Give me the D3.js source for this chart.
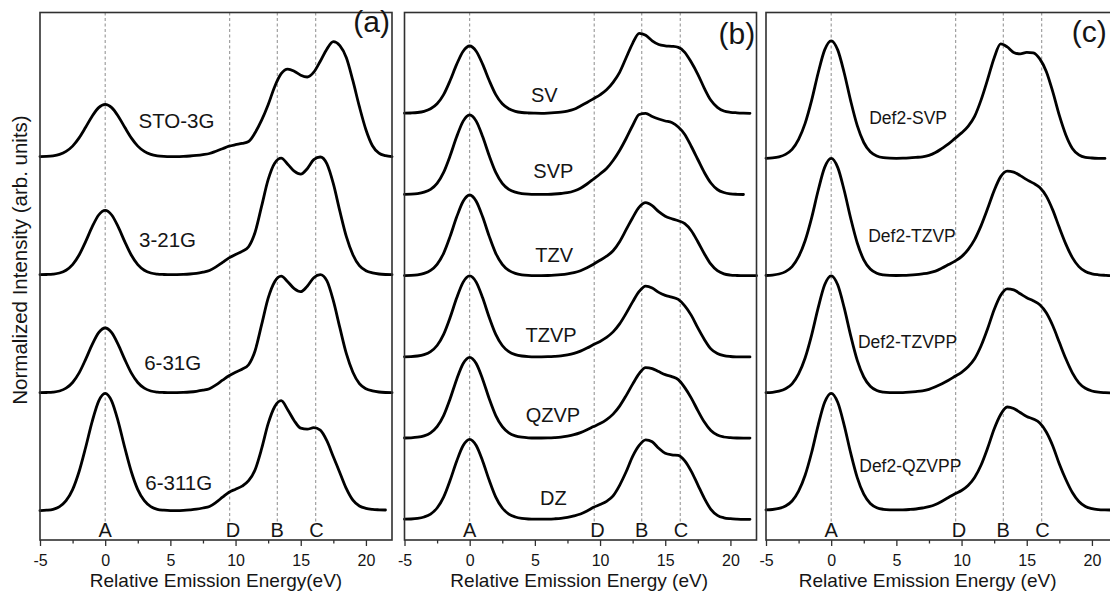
<!DOCTYPE html>
<html>
<head>
<meta charset="utf-8">
<script src="https://cdn.jsdelivr.net/npm/d3@7"></script>
<style>
  body { margin: 0; background: #fff; }
  svg { display: block; }
  text { font-family: "Liberation Sans", Arial, Helvetica, sans-serif; fill: #151515; }
</style>
</head>
<body>
<svg id="chart" width="1110" height="591"></svg>
<script>
// Sample energies (eV) shared by every spectrum
const energies = [
  -5, -4.5, -4, -3.5, -3, -2.5, -2, -1.5, -1, -0.5,
  0, 0.5, 1, 1.5, 2, 2.5, 3, 3.5, 4, 4.5,
  5, 5.5, 6, 6.5, 7, 7.5, 8, 8.5, 9, 9.5,
  10, 10.5, 11, 11.5, 12, 12.5, 13, 13.5, 14, 14.5,
  15, 15.5, 16, 16.5, 17, 17.5, 18, 18.5, 19, 19.5,
  20, 20.5, 21, 21.5, 22
];

// Panel (a): Pople basis sets
const namesA = ["STO-3G", "3-21G", "6-31G", "6-311G"];
const offsetsA = [354, 236, 118, 0];
const sto3g = [
  0.1, 0.3, 0.9, 2.3, 5.3, 10.6, 18.8, 29.4, 40.5, 49.1,
  52.3, 49.1, 40.5, 29.4, 18.8, 10.6, 5.3, 2.3, 0.9, 0.3,
  0.1, 0.1, 0.3, 0.7, 1.3, 2.1, 3.2, 5.5, 8, 10.5,
  12, 13.3, 15.2, 24, 36.5, 52, 70, 83, 87.6, 85.5,
  81.5, 79.7, 84.5, 95.5, 107.5, 115, 111, 99, 76, 50,
  27, 11, 3.5, 1, 0
];
const b321g = [
  0, 0.2, 0.6, 1.7, 4.5, 10.1, 19.7, 33.1, 47.8, 59.7,
  64.3, 59.7, 47.8, 33.1, 19.7, 10.1, 4.5, 1.7, 0.6, 0.2,
  0, 0.1, 0.3, 0.7, 1.4, 2.6, 4.2, 7.8, 12.3, 16.8,
  20.3, 23.3, 28, 42.5, 68.5, 95, 111.5, 116.5, 110.5, 103.5,
  100.5, 106, 115, 117.7, 111, 91, 63.5, 38, 20, 9,
  4, 1.8, 0.7, 0.2, 0
];
const b631g = [
  0, 0.2, 0.6, 1.7, 4.5, 10.2, 19.8, 33.3, 48.1, 60.1,
  64.7, 60.1, 48.1, 33.3, 19.8, 10.2, 4.5, 1.7, 0.6, 0.2,
  0, 0.1, 0.3, 0.7, 1.4, 2.5, 4, 7.8, 12.5, 17,
  20.5, 23.5, 28, 42, 68, 94.5, 111, 116.5, 111, 104,
  101, 106.5, 115, 118, 112, 92, 65, 39, 20.5, 9,
  4, 1.8, 0.7, 0.2, 0
];
const b6311g = [
  0.1, 0.5, 1.4, 4.1, 10, 21.1, 39.2, 63.2, 89.1, 109.6,
  117.3, 109.6, 89.1, 63.2, 39.2, 21.1, 10, 4.1, 1.4, 0.5,
  0.1, 0.1, 0.3, 0.8, 1.5, 2.7, 4.2, 8.3, 13.5, 18.5,
  21.5, 24.5, 30, 41, 62, 87, 104, 110, 101, 90,
  82.5, 81.5, 83, 80.5, 70, 54, 38, 22, 10.5, 4.7,
  2.3, 1.3, 0.9, 0.7
];
const labelEA = [5.47, 4.78, 5.18, 5.64];
const labelHA = [28.7, 27.7, 23, 20.7];

// Panel (b): Ahlrichs basis sets
const namesB = ["SV", "SVP", "TZV", "TZVP", "QZVP", "DZ"];
const offsetsB = [406, 324.8, 243.6, 162.4, 81.2, 0];
const sv = [
  0.1, 0.3, 0.8, 2, 4.5, 9.5, 18.7, 32.8, 48.9, 62.1,
  67.3, 62.1, 48.9, 32.8, 18.7, 9.5, 4.5, 2, 0.8, 0.3,
  0.1, 0, 0.2, 0.6, 1.2, 2.2, 4, 7.3, 10.8, 14.6,
  18.5, 23.5, 31, 41, 55.5, 70, 80, 78, 72.5, 68.8,
  67.5, 67, 66, 61, 51, 39, 25, 13, 6, 2.3,
  1, 0.5, 0.2, 0
];
const svp = [
  0.1, 0.3, 0.9, 2.3, 5.2, 11.2, 22.1, 38.7, 57.7, 73.4,
  79.5, 73.4, 57.7, 38.7, 22.1, 11.2, 5.2, 2.3, 0.9, 0.3,
  0.1, 0.1, 0.2, 0.5, 1, 1.8, 3.5, 6.3, 10.5, 15.5,
  20.5, 26, 34, 44, 56, 69, 80, 81.2, 78, 75.5,
  73.5, 72, 67.5, 60, 48, 35, 22, 11.5, 5, 2,
  0.7, 0.2, 0
];
const tzv = [
  0.1, 0.3, 0.9, 2.3, 5.3, 11.4, 22.4, 39.3, 58.6, 74.5,
  80.7, 74.5, 58.6, 39.3, 22.4, 11.4, 5.3, 2.3, 0.9, 0.3,
  0.1, 0.1, 0.2, 0.5, 1, 1.8, 3, 5, 8, 11.5,
  15.5, 19.5, 25, 34, 46, 58, 68.5, 73, 70, 64,
  59.5, 57, 55, 52, 45, 34, 22, 11.5, 5, 1.8,
  0.6, 0.2, 0, 0, 0
];
const tzvp = [
  0.1, 0.3, 0.9, 2.3, 5.3, 11.4, 22.5, 39.4, 58.8, 74.8,
  81, 74.8, 58.8, 39.4, 22.5, 11.4, 5.3, 2.3, 0.9, 0.3,
  0.1, 0.1, 0.2, 0.5, 1, 2, 3.5, 5.8, 8.8, 12.3,
  15.5, 19.5, 25, 33, 43.5, 55, 65.5, 70.8, 69, 64.5,
  61.5, 59.8, 57.5, 51, 41.5, 29, 17.5, 8, 3.3, 1.2,
  0.4, 0.1, 0, 0
];
const qzvp = [
  0.1, 0.3, 0.9, 2.3, 5.3, 11.4, 22.5, 39.3, 58.7, 74.6,
  80.8, 74.6, 58.7, 39.3, 22.5, 11.4, 5.3, 2.3, 0.9, 0.3,
  0.1, 0.1, 0.2, 0.5, 1, 2, 3.4, 5.5, 8.3, 11.5,
  14.5, 18.5, 24, 32, 42.5, 54, 64.5, 70.5, 69.5, 66.5,
  63.5, 61.5, 58.5, 50.5, 40, 27.5, 16, 7.5, 3, 1.1,
  0.4, 0.1, 0, 0
];
const dz = [
  0.1, 0.3, 0.9, 2.3, 5.2, 11.3, 22.2, 39, 58.1, 73.8,
  80, 73.8, 58.1, 39, 22.2, 11.3, 5.2, 2.3, 0.9, 0.3,
  0.1, 0.1, 0.2, 0.5, 1, 2, 3.4, 5.3, 8.3, 12,
  14.8, 18, 23.5, 34, 47.5, 63, 74, 79.5, 77.5, 71,
  66, 64.5, 64, 58.5, 48, 34.5, 21, 10, 4, 1.5,
  0.6, 0.2, 0, 0
];
const labelEB = [5.73, 6.42, 6.48, 6.25, 6.38, 6.42];
const labelHB = [11.6, 16.2, 14, 15.2, 16.4, 14.3];

// Panel (c): def2 basis sets
const namesC = ["Def2-SVP", "Def2-TZVP", "Def2-TZVPP", "Def2-QZVPP"];
const offsetsC = [351.6, 234.4, 117.2, 0];
const def2svp = [
  0.1, 0.5, 1.6, 4, 9, 19, 35, 58, 85.4, 108.5,
  117.6, 108.5, 85.4, 57.3, 32.7, 15.9, 6.6, 2.4, 0.7, 0.2,
  0.1, 0.2, 0.5, 1, 1.6, 3, 5.8, 10, 14.5, 20,
  25.5, 32, 42, 58.5, 79, 100.5, 114.5, 111.5, 106, 104.5,
  106, 105.5, 99.5, 87, 66.5, 43, 23.5, 10, 3.5, 1,
  0.4, 0.1, 0
];
const def2tzvp = [
  0.1, 0.5, 1.6, 4, 9, 18.9, 34.9, 57.8, 85.1, 108.2,
  117.2, 108.2, 85.1, 57.1, 32.6, 15.8, 6.6, 2.3, 0.7, 0.2,
  0.1, 0.2, 0.5, 1, 1.8, 2.8, 4.5, 7.5, 11, 14.5,
  19, 26, 36, 50, 67, 85, 99, 104.5, 103.5, 100,
  96, 92.5, 88, 79.5, 65.5, 48, 31.5, 18, 9, 4,
  1.8, 0.8, 0.3, 0, 0
];
const def2tzvpp = [
  0.1, 0.5, 1.6, 4, 9, 18.9, 34.8, 57.7, 84.9, 108,
  117, 108, 84.9, 57, 32.5, 15.8, 6.6, 2.3, 0.7, 0.2,
  0.1, 0.2, 0.6, 1.2, 2, 3.5, 6, 9, 12.5, 16.5,
  20.5, 26, 34, 47, 64, 83, 97.5, 104, 103, 99,
  95, 92, 88, 80, 67, 50.5, 34, 20, 10, 4.5,
  1.8, 0.6, 0.2, 0, 0
];
const def2qzvpp = [
  0.1, 0.5, 1.6, 4, 9, 18.8, 34.7, 57.5, 84.7, 107.7,
  116.7, 107.7, 84.7, 56.8, 32.4, 15.8, 6.5, 2.3, 0.7, 0.2,
  0.1, 0.2, 0.5, 1, 2, 3.3, 5.5, 8.8, 12.5, 16.3,
  19.5, 24.5, 32.5, 45, 62, 81, 95.5, 103, 101.5, 97.5,
  93.5, 91, 87, 78, 64, 46, 30.5, 17.5, 8.5, 3.5,
  1.3, 0.4, 0.1, 0, 0
];
const labelEC = [5.9, 6.2, 5.86, 6.07];
const labelHC = [34.3, 33.8, 44.5, 38.3];

// Feature markers and axis ticks
const markerNames = ["A", "D", "B", "C"];
const markerEnergies = [0, 9.55, 13.2, 16.15];
const markerLabelEnergies = [0, 9.8, 13.2, 16.2];
const xTicksMajor = [-5, 0, 5, 10, 15, 20];
const xTicksMinor = [-2.5, 2.5, 7.5, 12.5, 17.5];

// Layout
const plotTop = 12.5, plotBottom = 540, plotW = 352;
const panels = [
  { left: 40, names: namesA, offsets: offsetsA, series: [sto3g, b321g, b631g, b6311g],
    labelE: labelEA, labelH: labelHA, labelSize: 20.5, yDomain: [-29.3, 498.2],
    tag: "(a)", tagE: 21.84, tagY: 32, tagAnchor: "end",
    title: "Relative Emission Energy(eV)", titleE: 8.5 },
  { left: 404.5, names: namesB, offsets: offsetsB, series: [sv, svp, tzv, tzvp, qzvp, dz],
    labelE: labelEB, labelH: labelHB, labelSize: 20, yDomain: [-20.7, 506.8],
    tag: "(b)", tagE: 21.9, tagY: 44, tagAnchor: "end",
    title: "Relative Emission Energy (eV)", titleE: 8.4 },
  { left: 766, names: namesC, offsets: offsetsC, series: [def2svp, def2tzvp, def2tzvpp, def2qzvpp],
    labelE: labelEC, labelH: labelHC, labelSize: 17.5, yDomain: [-30, 497.5],
    tag: "(c)", tagE: 18.45, tagY: 42, tagAnchor: "start",
    title: "Relative Emission Energy (eV)", titleE: 7.4 }
];

const svg = d3.select("#chart");
svg.append("rect").attr("width", 1110).attr("height", 591).attr("fill", "#fff");

panels.forEach(p => {
  const x = d3.scaleLinear().domain([-5, 22]).range([p.left, p.left + plotW]);
  const y = d3.scaleLinear().domain(p.yDomain).range([plotBottom, plotTop]);
  const g = svg.append("g");

  // dashed guide lines at the A, D, B, C features
  g.selectAll("line.guide").data(markerEnergies).join("line")
    .attr("class", "guide")
    .attr("x1", d => x(d)).attr("x2", d => x(d))
    .attr("y1", plotTop).attr("y2", plotBottom - 18)
    .attr("stroke", "#8c8c8c").attr("stroke-width", 1)
    .attr("stroke-dasharray", "3,2.5");

  g.selectAll("text.marker").data(markerNames).join("text")
    .attr("class", "marker")
    .attr("x", (d, i) => x(markerLabelEnergies[i]))
    .attr("y", plotBottom - 3)
    .attr("text-anchor", "middle")
    .style("font-size", "20px")
    .text(d => d);

  // stacked spectra
  p.series.forEach((s, k) => {
    const line = d3.line()
      .x((d, i) => x(energies[i]))
      .y(d => y(p.offsets[k] + d))
      .curve(d3.curveMonotoneX);
    g.append("path").datum(s)
      .attr("d", line)
      .attr("fill", "none")
      .attr("stroke", "#000")
      .attr("stroke-width", 2.8)
      .attr("stroke-linejoin", "round")
      .attr("stroke-linecap", "round");
  });

  // basis-set labels
  g.selectAll("text.name").data(p.names).join("text")
    .attr("class", "name")
    .attr("x", (d, i) => x(p.labelE[i]))
    .attr("y", (d, i) => y(p.offsets[i] + p.labelH[i]))
    .attr("text-anchor", "middle")
    .style("font-size", p.labelSize + "px")
    .text(d => d);

  // frame
  g.append("rect")
    .attr("x", x(-5)).attr("y", plotTop)
    .attr("width", plotW).attr("height", plotBottom - plotTop)
    .attr("fill", "none").attr("stroke", "#303030").attr("stroke-width", 1.6);

  // bottom axis: major ticks with labels, minor ticks without
  const major = d3.axisBottom(x).tickValues(xTicksMajor)
    .tickSize(6).tickSizeOuter(0).tickPadding(8)
    .tickFormat(d => String(d));
  const minor = d3.axisBottom(x).tickValues(xTicksMinor)
    .tickSize(3.5).tickSizeOuter(0).tickFormat("");

  const gMaj = g.append("g").attr("transform", `translate(0,${plotBottom})`).call(major);
  const gMin = g.append("g").attr("transform", `translate(0,${plotBottom})`).call(minor);
  [gMaj, gMin].forEach(a => {
    a.attr("font-size", null).attr("font-family", null).style("color", "#303030");
    a.select(".domain").remove();
    a.selectAll(".tick line").attr("stroke-width", 1.3);
  });
  gMaj.selectAll(".tick text").style("font-size", "16px").attr("dy", null).attr("y", 25.5);

  g.append("text")
    .attr("x", x(p.titleE)).attr("y", plotBottom + 47)
    .attr("text-anchor", "middle")
    .style("font-size", "19px")
    .text(p.title);

  g.append("text")
    .attr("x", x(p.tagE)).attr("y", p.tagY)
    .attr("text-anchor", p.tagAnchor)
    .style("font-size", "30px")
    .text(p.tag);
});

svg.append("text")
  .attr("transform", "translate(26.5,260) rotate(-90)")
  .attr("text-anchor", "middle")
  .style("font-size", "20.5px")
  .text("Normalized Intensity (arb. units)");
</script>
</body>
</html>
